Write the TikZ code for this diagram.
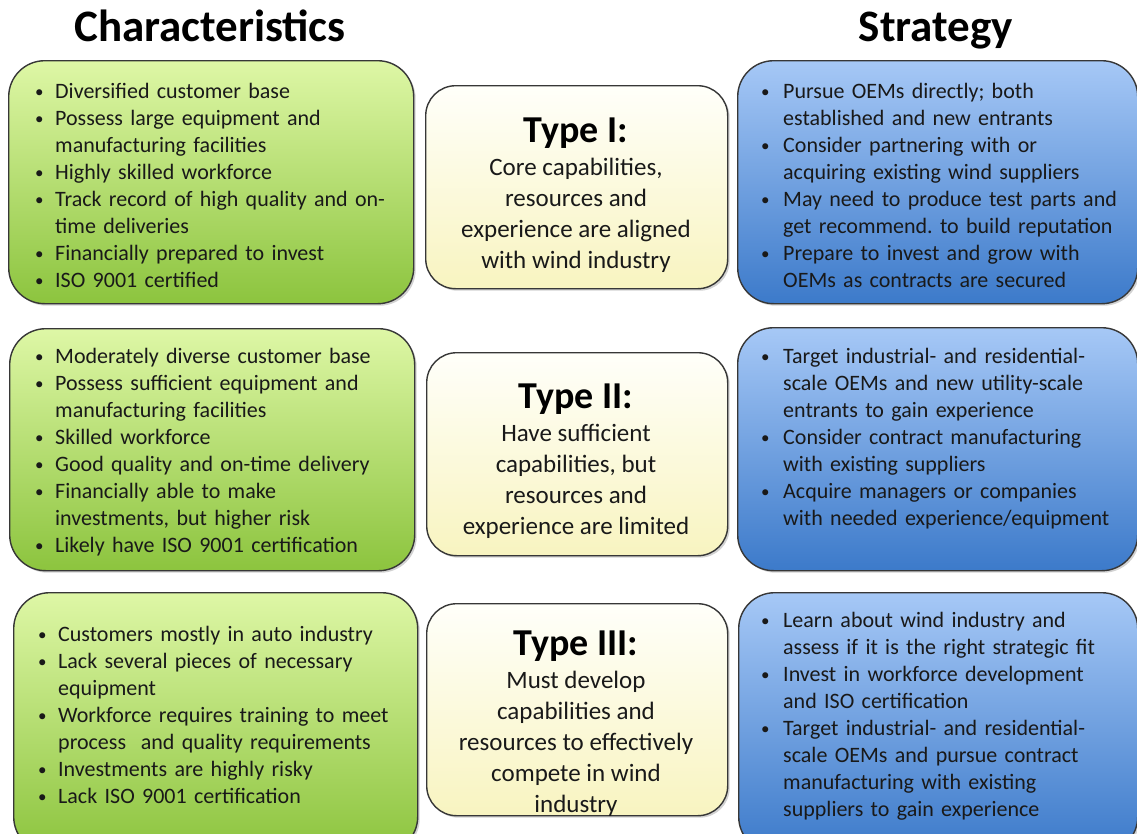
\documentclass[tikz,border=0pt]{standalone}
\usepackage{fontspec}
\setmainfont{Carlito}
\usetikzlibrary{shadows}
\frenchspacing
\definecolor{gtop}{RGB}{222,247,166}
\definecolor{gbot}{RGB}{140,196,62}
\definecolor{btop}{RGB}{166,200,246}
\definecolor{bbot}{RGB}{60,122,202}
\definecolor{ytop}{RGB}{255,255,250}
\definecolor{ybot}{RGB}{248,244,192}
\definecolor{bord}{RGB}{55,55,55}
\definecolor{txt}{RGB}{25,25,25}
\newlength\bulind
\newcommand\bul[1]{\noindent\hangindent=\bulind\hangafter=1\makebox[\bulind][l]{\hspace{2pt}\raisebox{1pt}{\fontsize{17}{20}\selectfont\textbullet}}\strut#1\par}
\newcommand\nl{\newline}
\tikzset{
  boxbase/.style={draw=bord, line width=1.4pt, anchor=north west, inner sep=0pt,
    drop shadow={shadow xshift=2pt, shadow yshift=-2pt, opacity=0.35}},
  greenbox/.style={boxbase, rounded corners=36pt, top color=gtop, bottom color=gbot},
  bluebox/.style={boxbase, rounded corners=36pt, top color=btop, bottom color=bbot},
  yellowbox/.style={boxbase, rounded corners=30pt, top color=ytop, bottom color=ybot},
  bullets/.style={anchor=north west, inner sep=0pt, text width=390pt, text=txt,
    font=\fontsize{22}{27}\selectfont, execute at begin node={\raggedright\frenchspacing\setlength\bulind{#1}}},
  title/.style={anchor=base, inner sep=0pt, font=\fontsize{38}{40}\selectfont\bfseries, text=black},
  ybody/.style={anchor=north, inner sep=0pt, align=center, text=txt,
    font=\fontsize{25}{31}\selectfont},
  heading/.style={anchor=base, inner sep=0pt, font=\fontsize{45}{47}\selectfont\bfseries, text=black}
}
\begin{document}
\begin{tikzpicture}[x=1pt,y=-1pt]
\useasboundingbox[fill=white] (0,0) rectangle (1137,833);
% headings
\node[heading] (hc) at (210,41) {Characteristics};
\node[heading] (hs) at (936,41) {Strategy};
% boxes row 1
\node[greenbox, minimum width=405pt, minimum height=243pt] (g1) at (8,60) {};
\node[yellowbox, minimum width=302pt, minimum height=203pt] (y1) at (425,85) {};
\node[bluebox, minimum width=400pt, minimum height=243pt] (b1) at (737,60) {};
% row 2
\node[greenbox, minimum width=405pt, minimum height=242pt] (g2) at (9,328) {};
\node[yellowbox, minimum width=301pt, minimum height=203pt] (y2) at (426,352) {};
\node[bluebox, minimum width=400pt, minimum height=243pt] (b2) at (737,327) {};
% row 3
\node[greenbox, minimum width=404pt, minimum height=260pt] (g3) at (13,592) {};
\node[yellowbox, minimum width=301pt, minimum height=212pt] (y3) at (426,603) {};
\node[bluebox, minimum width=399pt, minimum height=260pt] (b3) at (738,592) {};
\useasboundingbox (0,0) rectangle (1137,833);
% green texts
\node[bullets=22pt] (tg1) at (33,79) {%
\bul{Diversified customer base}
\bul{Possess large equipment and\nl manufacturing facilities}
\bul{Highly skilled workforce}
\bul{Track record of high quality and on-\nl time deliveries}
\bul{Financially prepared to invest}
\bul{ISO 9001 certified}};
\node[bullets=22pt] (tg2) at (33,344) {%
\bul{Moderately diverse customer base}
\bul{Possess sufficient equipment and\nl manufacturing facilities}
\bul{Skilled workforce}
\bul{Good quality and on-time delivery}
\bul{Financially able to make\nl investments, but higher risk}
\bul{Likely have ISO 9001 certification}};
\node[bullets=22pt] (tg3) at (36,622) {%
\bul{Customers mostly in auto industry}
\bul{Lack several pieces of necessary\nl equipment}
\bul{Workforce requires training to meet\nl process\ \ and quality requirements}
\bul{Investments are highly risky}
\bul{Lack ISO 9001 certification}};
% blue texts
\node[bullets=24pt] (tb1) at (759,79) {%
\bul{Pursue OEMs directly; both\nl established and new entrants}
\bul{Consider partnering with or\nl acquiring existing wind suppliers}
\bul{May need to produce test parts and\nl get recommend. to build reputation}
\bul{Prepare to invest and grow with\nl OEMs as contracts are secured}};
\node[bullets=24pt] (tb2) at (759,344) {%
\bul{Target industrial- and residential-\nl scale OEMs and new utility-scale\nl entrants to gain experience}
\bul{Consider contract manufacturing\nl with existing suppliers}
\bul{Acquire managers or companies\nl with needed experience/equipment}};
\node[bullets=24pt] (tb3) at (759,608) {%
\bul{Learn about wind industry and\nl assess if it is the right strategic fit}
\bul{Invest in workforce development\nl and ISO certification}
\bul{Target industrial- and residential-\nl scale OEMs and pursue contract\nl manufacturing with existing\nl suppliers to gain experience}};
% yellow texts
\node[title] (t1) at (576,142) {Type I:};
\node[ybody] (d1) at (576,154) {\strut Core capabilities,\\resources and\\experience are aligned\\with wind industry};
\node[title] (t2) at (576,408) {Type II:};
\node[ybody] (d2) at (576,420) {\strut Have sufficient\\capabilities, but\\resources and\\experience are limited};
\node[title] (t3) at (576,655) {Type III:};
\node[ybody] (d3) at (576,667) {\strut Must develop\\capabilities and\\resources to effectively\\compete in wind\\industry};
\end{tikzpicture}
\end{document}
